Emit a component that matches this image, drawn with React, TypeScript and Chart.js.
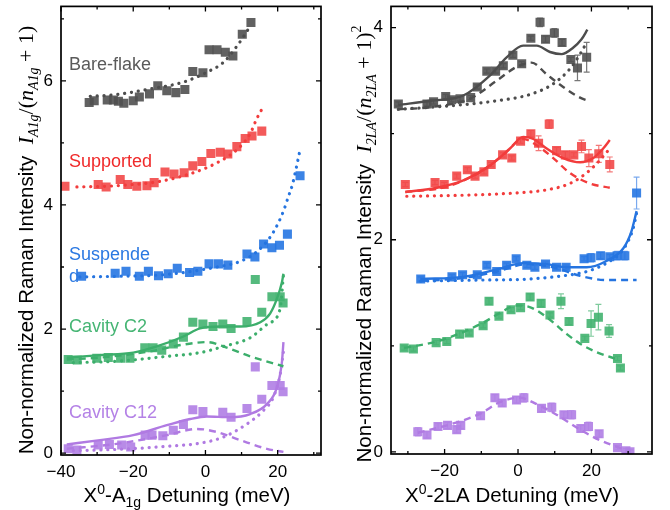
import { useEffect, useRef } from "react";
import { Chart, registerables } from "chart.js";

Chart.register(...registerables);

type Pt = [number, number];

const SANS = '"Liberation Sans", Arial, Helvetica, sans-serif';
const SERIF = '"Liberation Serif", "Times New Roman", serif';

// ---------- A1g panel: axes ----------
const a1gXRange = [-40, 32];
const a1gYRange = [-0.03, 7.2];
const a1gXTicks = [-40, -20, 0, 20];
const a1gXMinor = [-30, -10, 10, 30];
const a1gYTicks = [0, 2, 4, 6];
const a1gYMinor = [1, 3, 5, 7];

// ---------- A1g panel: measured intensities ----------
const bareA1g: Pt[] = [
  [-32.2, 5.65], [-30.8, 5.68], [-27.2, 5.69], [-25.5, 5.69], [-24.1, 5.67], [-22.6, 5.64],
  [-20.0, 5.68], [-18.3, 5.74], [-15.5, 5.79], [-13.2, 5.92], [-10.7, 5.84], [-8.2, 5.81],
  [-5.7, 5.86], [-3.5, 6.15], [-0.7, 6.13], [1.0, 6.5], [3.2, 6.5], [5.5, 6.46], [7.6, 6.4],
  [10.2, 6.75], [12.6, 6.94],
];
const bareA1gDotted: Pt[] = [
  [-31.9, 5.75], [-24.6, 5.78], [-15.3, 5.87], [-6.1, 5.98], [0.4, 6.14], [5.0, 6.3],
  [9.1, 6.59], [12.4, 6.88],
];

const suppA1g: Pt[] = [
  [-38.9, 4.3], [-29.7, 4.33], [-27.5, 4.29], [-23.6, 4.41], [-21.5, 4.33], [-19.0, 4.3],
  [-16.2, 4.31], [-14.2, 4.36], [-11.2, 4.53], [-8.7, 4.5], [-5.9, 4.52], [-3.5, 4.63],
  [-1.0, 4.7], [1.5, 4.83], [4.1, 4.85], [6.2, 4.82], [8.7, 4.94], [11.0, 5.07], [12.9, 5.11],
  [15.6, 5.19],
];
const suppA1gDotted: Pt[] = [
  [-35.6, 4.29], [-24.6, 4.31], [-12.6, 4.38], [-3.3, 4.52], [3.2, 4.68], [8.7, 4.89],
  [12.4, 5.15], [14.2, 5.39], [15.6, 5.54],
];

const suspA1g: Pt[] = [
  [-34.3, 2.85], [-25.0, 2.9], [-22.0, 2.93], [-18.3, 2.85], [-15.8, 2.93], [-13.0, 2.86],
  [-10.3, 2.89], [-7.8, 2.98], [-4.4, 2.91], [-2.1, 2.93], [1.0, 3.05], [3.6, 3.05], [6.2, 3.03],
  [11.5, 3.21], [13.7, 3.16], [16.1, 3.37], [18.4, 3.31], [20.5, 3.35], [22.7, 3.53], [26.2, 4.47],
];
const suspA1gDotted: Pt[] = [
  [-34.8, 2.84], [-24.6, 2.85], [-10.7, 2.88], [3.2, 3.0], [9.6, 3.09], [14.7, 3.27],
  [18.8, 3.56], [21.6, 3.9], [23.0, 4.14], [24.1, 4.33], [26.1, 4.86],
];

const c2A1g: Pt[] = [
  [-38.0, 1.51], [-35.5, 1.5], [-30.1, 1.53], [-26.9, 1.54], [-23.5, 1.53], [-20.9, 1.53],
  [-16.8, 1.7], [-14.5, 1.7], [-12.1, 1.66], [-8.9, 1.76], [-6.1, 1.87], [-3.5, 2.11],
  [-0.7, 2.08], [2.1, 2.04], [4.8, 2.08], [7.1, 2.01], [11.5, 2.12], [13.8, 2.8], [15.6, 2.27],
  [18.4, 2.52], [20.7, 2.52], [21.5, 2.42],
];
const c2A1gSolid: Pt[] = [
  [-38.4, 1.54], [-29.2, 1.58], [-20.0, 1.62], [-13.5, 1.72], [-6.1, 1.88], [-1.5, 2.01],
  [4.1, 2.04], [9.6, 2.04], [15.2, 2.11], [17.9, 2.25], [19.8, 2.49], [21.2, 2.76], [21.6, 2.89],
];
const c2A1gDashed: Pt[] = [
  [-38.4, 1.51], [-29.2, 1.54], [-15.3, 1.64], [-6.1, 1.75], [0.4, 1.79], [5.9, 1.7],
  [12.4, 1.56], [21.6, 1.4],
];
const c2A1gDotted: Pt[] = [
  [-36.6, 1.46], [-24.6, 1.48], [-10.7, 1.56], [-1.5, 1.62], [5.0, 1.72], [12.4, 1.86],
  [17.4, 2.09], [20.7, 2.33], [21.6, 2.87],
];

const c12A1g: Pt[] = [
  [-38.0, 0.07], [-35.6, 0.05], [-29.7, 0.13], [-26.6, 0.14], [-23.2, 0.13], [-20.7, 0.1],
  [-16.7, 0.29], [-14.8, 0.29], [-11.8, 0.28], [-8.9, 0.37], [-6.1, 0.46], [-3.5, 0.7],
  [-0.7, 0.67], [4.8, 0.66], [7.1, 0.58], [11.5, 0.72], [13.8, 1.39], [15.6, 0.87], [18.4, 1.09],
  [20.7, 1.09], [21.5, 0.99],
];
const c12A1gSolid: Pt[] = [
  [-38.4, 0.14], [-29.2, 0.21], [-20.0, 0.29], [-10.7, 0.45], [-4.2, 0.55], [0.4, 0.59],
  [6.8, 0.58], [12.4, 0.63], [17.0, 0.79], [19.8, 1.06], [21.2, 1.48], [21.6, 1.79],
];
const c12A1gDashed: Pt[] = [
  [-38.4, 0.07], [-24.6, 0.15], [-10.7, 0.29], [-2.4, 0.39], [3.2, 0.34], [9.6, 0.21],
  [17.0, 0.07], [21.6, 0.02],
];
const c12A1gDotted: Pt[] = [
  [-36.6, 0.04], [-24.6, 0.06], [-10.7, 0.11], [-1.5, 0.16], [5.0, 0.26], [11.5, 0.47],
  [16.1, 0.69], [18.8, 0.9], [20.7, 1.27], [21.6, 1.64],
];

// ---------- 2LA panel: axes ----------
const laXRange = [-34.6, 36.5];
const laYRange = [-0.02, 4.2];
const laXTicks = [-20, 0, 20];
const laXMinor = [-30, -10, 10, 30];
const laYTicks = [0, 2, 4];
const laYMinor = [1, 3];

// ---------- 2LA panel: measured intensities [detuning, value, error] ----------
const bare2LA: number[][] = [
  [-32.6, 3.28, 0.02], [-24.8, 3.28, 0.02], [-23.0, 3.3, 0.02], [-19.7, 3.35, 0.02],
  [-18.1, 3.32, 0.02], [-15.8, 3.33, 0.02], [-12.9, 3.34, 0.02], [-11.1, 3.44, 0.02],
  [-8.5, 3.59, 0.02], [-6.1, 3.59, 0.02], [-4.0, 3.64, 0.02], [-1.4, 3.74, 0.02],
  [1.0, 3.66, 0.02], [3.5, 3.9, 0.02], [6.0, 4.05, 0.04], [7.5, 3.89, 0.03], [9.9, 3.95, 0.04],
  [12.0, 3.86, 0.03], [14.4, 3.7, 0.02], [16.2, 3.62, 0.12], [18.7, 3.72, 0.14],
];
const bare2LASolid: Pt[] = [
  [-32.6, 3.27], [-23.9, 3.31], [-14.9, 3.36], [-7.6, 3.55], [-3.1, 3.72], [1.4, 3.83],
  [5.1, 3.83], [8.7, 3.77], [11.9, 3.75], [15.0, 3.81], [17.3, 3.89], [18.9, 3.98],
];
const bare2LADashed: Pt[] = [
  [-32.6, 3.23], [-23.9, 3.25], [-13.1, 3.33], [-5.8, 3.5], [-0.4, 3.63], [3.7, 3.67],
  [7.8, 3.56], [12.3, 3.44], [16.9, 3.34], [19.1, 3.31],
];
const bare2LADotted: Pt[] = [
  [-32.6, 3.23], [-19.4, 3.26], [-5.8, 3.31], [3.3, 3.37], [9.6, 3.47], [14.1, 3.61],
  [16.9, 3.75], [18.7, 3.86],
];

const supp2LA: number[][] = [
  [-30.7, 2.52, 0.02], [-22.6, 2.54, 0.02], [-20.1, 2.52, 0.02], [-16.7, 2.6, 0.02],
  [-13.8, 2.66, 0.02], [-11.7, 2.6, 0.02], [-9.3, 2.64, 0.02], [-7.3, 2.71, 0.02],
  [-4.2, 2.8, 0.02], [-1.7, 2.77, 0.02], [0.7, 2.93, 0.02], [3.5, 3.0, 0.03], [5.6, 2.91, 0.07],
  [8.5, 3.09, 0.04], [10.5, 2.84, 0.03], [12.9, 2.8, 0.03], [15.2, 2.8, 0.02], [17.3, 2.88, 0.06],
  [19.3, 2.77, 0.08], [22.0, 2.81, 0.08], [25.0, 2.71, 0.07],
];
const supp2LASolid: Pt[] = [
  [-30.7, 2.45], [-22.1, 2.49], [-14.9, 2.56], [-7.6, 2.7], [-2.2, 2.86], [1.4, 2.97],
  [4.2, 2.95], [7.8, 2.86], [12.3, 2.77], [16.9, 2.73], [20.5, 2.77], [23.2, 2.86], [25.0, 2.94],
];
const supp2LADashed: Pt[] = [
  [-30.7, 2.45], [-19.4, 2.5], [-10.3, 2.64], [-4.0, 2.8], [1.4, 2.95], [5.1, 2.89],
  [9.6, 2.77], [14.1, 2.63], [19.6, 2.53], [25.0, 2.49],
];
const supp2LADotted: Pt[] = [
  [-30.3, 2.41], [-14.9, 2.42], [-1.3, 2.44], [7.8, 2.47], [14.1, 2.53], [18.7, 2.63],
  [22.3, 2.75], [25.0, 2.86],
];

const susp2LA: number[][] = [
  [-26.5, 1.63, 0.02], [-18.0, 1.65, 0.02], [-15.1, 1.67, 0.02], [-11.1, 1.67, 0.02],
  [-8.5, 1.76, 0.02], [-5.8, 1.7, 0.02], [-3.1, 1.76, 0.02], [-0.5, 1.82, 0.02],
  [2.4, 1.76, 0.02], [4.6, 1.74, 0.02], [7.5, 1.77, 0.02], [10.5, 1.74, 0.02], [13.1, 1.74, 0.02],
  [18.0, 1.82, 0.02], [19.9, 1.83, 0.04], [22.5, 1.85, 0.03], [25.0, 1.84, 0.02],
  [27.0, 1.85, 0.04], [29.1, 1.85, 0.04], [32.3, 2.44, 0.15],
];
const susp2LASolid: Pt[] = [
  [-26.5, 1.63], [-14.9, 1.65], [-5.8, 1.72], [1.4, 1.78], [7.8, 1.77], [13.3, 1.74],
  [18.7, 1.74], [24.1, 1.8], [28.7, 1.92], [30.9, 2.08], [32.3, 2.27],
];
const susp2LADashed: Pt[] = [
  [-26.5, 1.61], [-14.9, 1.64], [-5.8, 1.7], [2.4, 1.77], [9.6, 1.74], [16.9, 1.66],
  [24.1, 1.62], [32.3, 1.62],
];
const susp2LADotted: Pt[] = [
  [-26.5, 1.61], [-10.3, 1.62], [3.3, 1.63], [12.3, 1.66], [18.7, 1.7], [24.1, 1.78],
  [28.7, 1.91], [31.4, 2.11], [32.3, 2.25],
];

const c22LA: number[][] = [
  [-31.0, 0.98, 0.02], [-28.5, 0.97, 0.02], [-22.3, 1.03, 0.02], [-19.4, 1.04, 0.02],
  [-15.9, 1.11, 0.03], [-13.3, 1.12, 0.02], [-9.5, 1.19, 0.02], [-7.9, 1.42, 0.03],
  [-5.2, 1.28, 0.02], [-1.9, 1.34, 0.02], [0.7, 1.36, 0.02], [3.3, 1.46, 0.03], [6.3, 1.4, 0.03],
  [8.7, 1.29, 0.02], [11.7, 1.42, 0.07], [13.9, 1.23, 0.03], [18.2, 1.07, 0.02],
  [19.9, 1.21, 0.12], [21.9, 1.27, 0.12], [24.8, 1.14, 0.06], [27.1, 0.88, 0.02], [27.9, 0.79, 0.02],
];
const c22LADashed: Pt[] = [
  [-31.0, 0.98], [-22.2, 1.04], [-14.9, 1.13], [-9.4, 1.22], [-4.9, 1.31], [-0.4, 1.38],
  [2.8, 1.37], [7.8, 1.27], [13.3, 1.11], [16.9, 1.02], [21.4, 0.94], [27.3, 0.87],
];

const c122LA: number[][] = [
  [-27.3, 0.19, 0.04], [-24.8, 0.16, 0.03], [-21.8, 0.24, 0.03], [-19.2, 0.25, 0.03],
  [-16.7, 0.21, 0.03], [-15.6, 0.25, 0.03], [-10.2, 0.34, 0.03], [-6.3, 0.51, 0.03],
  [-4.3, 0.46, 0.03], [-0.4, 0.49, 0.03], [1.6, 0.51, 0.04], [6.4, 0.41, 0.03], [9.2, 0.42, 0.04],
  [12.5, 0.35, 0.03], [14.6, 0.35, 0.04], [17.1, 0.22, 0.03], [19.2, 0.24, 0.04],
  [22.1, 0.17, 0.03], [27.1, 0.04, 0.02], [29.4, 0.01, 0.02], [30.5, 0.0, 0.02],
];
const c122LADashed: Pt[] = [
  [-27.3, 0.18], [-19.4, 0.25], [-10.3, 0.36], [-4.9, 0.47], [0.5, 0.51], [5.1, 0.45],
  [10.5, 0.35], [16.9, 0.21], [22.3, 0.11], [29.1, 0.02],
];

// ---------- series names and colours ----------
const seriesNames = ["Bare-flake", "Supported", "Suspende", "d", "Cavity C2", "Cavity C12"];

const GRAY = { line: "#4d4d4d", fill: "rgba(80,80,80,0.9)", bar: "#777777", text: "#5a5a5a" };
const RED = { line: "#f23c3c", fill: "rgba(242,72,72,0.9)", bar: "#f47a7a", text: "#f02a2a" };
const BLUE = { line: "#2574e0", fill: "rgba(38,118,226,0.9)", bar: "#7aa9ee", text: "#2a78e2" };
const GREEN = { line: "#3cae6b", fill: "rgba(66,178,112,0.9)", bar: "#7fcb9d", text: "#46b574" };
const PURPLE = { line: "#b07ae2", fill: "rgba(176,126,228,0.9)", bar: "#c9a6ee", text: "#b482e6" };

interface Palette { line: string; fill: string; bar: string; text: string }
interface Series {
  pal: Palette;
  pts: number[][];
  solid?: Pt[];
  dashed?: Pt[];
  dotted?: Pt[];
}
interface Run { t: string; f: string; dy?: number }
interface Label { text: string; x: number; y: number; color: string }
interface PanelSpec {
  width: number;
  height: number;
  yAxisW: number;
  xAxisH: number;
  padTop: number;
  padRight: number;
  xRange: number[];
  yRange: number[];
  xTicks: number[];
  xMinor: number[];
  yTicks: number[];
  yMinor: number[];
  series: Series[];
  labels: Label[];
  xTitle: Run[];
  xTitlePos: number[];
  yTitle: Run[];
  yTitlePos: number[];
}

const big = `20.5px ${SANS}`;
const small = `14px ${SANS}`;
const mathBig = `italic 22px ${SERIF}`;
const mathUp = `22px ${SERIF}`;
const mathSub = `italic 14px ${SERIF}`;
const mathSup = `14px ${SERIF}`;

const a1gPanel: PanelSpec = {
  width: 340,
  height: 510,
  yAxisW: 61,
  xAxisH: 55,
  padTop: 4,
  padRight: 19,
  xRange: a1gXRange,
  yRange: a1gYRange,
  xTicks: a1gXTicks,
  xMinor: a1gXMinor,
  yTicks: a1gYTicks,
  yMinor: a1gYMinor,
  series: [
    { pal: GRAY, pts: bareA1g, dotted: bareA1gDotted },
    { pal: RED, pts: suppA1g, dotted: suppA1gDotted },
    { pal: BLUE, pts: suspA1g, dotted: suspA1gDotted },
    { pal: GREEN, pts: c2A1g, solid: c2A1gSolid, dashed: c2A1gDashed, dotted: c2A1gDotted },
    { pal: PURPLE, pts: c12A1g, solid: c12A1gSolid, dashed: c12A1gDashed, dotted: c12A1gDotted },
  ],
  labels: [
    { text: seriesNames[0], x: -37.8, y: 6.18, color: GRAY.text },
    { text: seriesNames[1], x: -37.8, y: 4.61, color: RED.text },
    { text: seriesNames[2], x: -37.8, y: 3.11, color: BLUE.text },
    { text: seriesNames[3], x: -37.8, y: 2.76, color: BLUE.text },
    { text: seriesNames[4], x: -37.8, y: 1.95, color: GREEN.text },
    { text: seriesNames[5], x: -37.8, y: 0.57, color: PURPLE.text },
  ],
  xTitle: [
    { t: "X", f: big },
    { t: "0", f: small, dy: -8 },
    { t: "-A", f: big },
    { t: "1g", f: small, dy: 5 },
    { t: " Detuning (meV)", f: big },
  ],
  xTitlePos: [187, 502],
  yTitle: [
    { t: "Non-normalized Raman Intensity", f: big },
    { t: "  ", f: big },
    { t: "I", f: mathBig },
    { t: "A1g", f: mathSub, dy: 5 },
    { t: "/(", f: mathUp },
    { t: "n", f: mathBig },
    { t: "A1g", f: mathSub, dy: 5 },
    { t: " + 1)", f: mathUp },
  ],
  yTitlePos: [33, 240],
};

const laPanel: PanelSpec = {
  width: 330,
  height: 510,
  yAxisW: 51,
  xAxisH: 56,
  padTop: 4,
  padRight: 18,
  xRange: laXRange,
  yRange: laYRange,
  xTicks: laXTicks,
  xMinor: laXMinor,
  yTicks: laYTicks,
  yMinor: laYMinor,
  series: [
    { pal: GRAY, pts: bare2LA, solid: bare2LASolid, dashed: bare2LADashed, dotted: bare2LADotted },
    { pal: RED, pts: supp2LA, solid: supp2LASolid, dashed: supp2LADashed, dotted: supp2LADotted },
    { pal: BLUE, pts: susp2LA, solid: susp2LASolid, dashed: susp2LADashed, dotted: susp2LADotted },
    { pal: GREEN, pts: c22LA, dashed: c22LADashed },
    { pal: PURPLE, pts: c122LA, dashed: c122LADashed },
  ],
  labels: [],
  xTitle: [
    { t: "X", f: big },
    { t: "0", f: small, dy: -8 },
    { t: "-2LA Detuning (meV)", f: big },
  ],
  xTitlePos: [172, 502],
  yTitle: [
    { t: "Non-normalized Raman Intensity", f: big },
    { t: "  ", f: big },
    { t: "I", f: mathBig },
    { t: "2LA", f: mathSub, dy: 5 },
    { t: "/(", f: mathUp },
    { t: "n", f: mathBig },
    { t: "2LA", f: mathSub, dy: 5 },
    { t: " + 1)", f: mathUp },
    { t: "2", f: mathSup, dy: -10 },
  ],
  yTitlePos: [31, 244],
};

function drawRuns(ctx: CanvasRenderingContext2D, runs: Run[], cx: number, cy: number, vertical: boolean) {
  ctx.save();
  ctx.translate(cx, cy);
  if (vertical) ctx.rotate(-Math.PI / 2);
  const widths = runs.map((r) => {
    ctx.font = r.f;
    return ctx.measureText(r.t).width;
  });
  const total = widths.reduce((a, b) => a + b, 0);
  let x = -total / 2;
  ctx.textAlign = "left";
  ctx.textBaseline = "alphabetic";
  ctx.fillStyle = "#000";
  runs.forEach((r, i) => {
    ctx.font = r.f;
    ctx.fillText(r.t, x, r.dy || 0);
    x += widths[i];
  });
  ctx.restore();
}

function framePlugin(spec: PanelSpec) {
  return {
    id: "frame",
    beforeDatasetsDraw(chart: any) {
      const { ctx, scales } = chart;
      const xs = scales.x;
      const ys = scales.y;
      ctx.save();
      ctx.lineWidth = 1.2;
      for (const s of spec.series) {
        ctx.strokeStyle = s.pal.bar;
        for (const p of s.pts) {
          if (p.length < 3) continue;
          const px = xs.getPixelForValue(p[0]);
          const top = ys.getPixelForValue(p[1] + p[2]);
          const bot = ys.getPixelForValue(p[1] - p[2]);
          ctx.beginPath();
          ctx.moveTo(px, top);
          ctx.lineTo(px, bot);
          ctx.moveTo(px - 3, top);
          ctx.lineTo(px + 3, top);
          ctx.moveTo(px - 3, bot);
          ctx.lineTo(px + 3, bot);
          ctx.stroke();
        }
      }
      ctx.restore();
    },
    afterDraw(chart: any) {
      const { ctx, chartArea: a, scales } = chart;
      const xs = scales.x;
      const ys = scales.y;
      ctx.save();
      // frame
      ctx.strokeStyle = "#000";
      ctx.lineWidth = 1.7;
      ctx.strokeRect(a.left, a.top, a.right - a.left, a.bottom - a.top);
      // inward ticks on all four sides
      ctx.lineWidth = 1.3;
      const tick = (vals: number[], len: number) => {
        for (const v of vals) {
          const px = xs.getPixelForValue(v);
          if (px < a.left - 0.5 || px > a.right + 0.5) continue;
          ctx.beginPath();
          ctx.moveTo(px, a.bottom);
          ctx.lineTo(px, a.bottom - len);
          ctx.moveTo(px, a.top);
          ctx.lineTo(px, a.top + len);
          ctx.stroke();
        }
      };
      const ytick = (vals: number[], len: number) => {
        for (const v of vals) {
          const py = ys.getPixelForValue(v);
          if (py < a.top - 0.5 || py > a.bottom + 0.5) continue;
          ctx.beginPath();
          ctx.moveTo(a.left, py);
          ctx.lineTo(a.left + len, py);
          ctx.moveTo(a.right, py);
          ctx.lineTo(a.right - len, py);
          ctx.stroke();
        }
      };
      tick(spec.xTicks, 5);
      tick(spec.xMinor, 3);
      ytick(spec.yTicks, 5);
      ytick(spec.yMinor, 3);
      // series labels
      ctx.font = `18px ${SANS}`;
      ctx.textAlign = "left";
      ctx.textBaseline = "alphabetic";
      for (const l of spec.labels) {
        ctx.fillStyle = l.color;
        ctx.fillText(l.text, xs.getPixelForValue(l.x), ys.getPixelForValue(l.y));
      }
      ctx.restore();
      drawRuns(ctx, spec.xTitle, spec.xTitlePos[0], spec.xTitlePos[1], false);
      drawRuns(ctx, spec.yTitle, spec.yTitlePos[0], spec.yTitlePos[1], true);
    },
  };
}

function lineSet(pts: Pt[], color: string, style: "solid" | "dashed" | "dotted") {
  return {
    data: pts.map(([x, y]) => ({ x, y })),
    showLine: true,
    pointRadius: 0,
    borderColor: color,
    backgroundColor: color,
    borderWidth: style === "dotted" ? 3.2 : 2.4,
    borderDash: style === "dashed" ? [7, 5] : style === "dotted" ? [0.1, 6.8] : [],
    borderCapStyle: style === "dotted" ? "round" : "butt",
    cubicInterpolationMode: "monotone",
    fill: false,
  };
}

function buildConfig(spec: PanelSpec): any {
  const lines: any[] = [];
  const marks: any[] = [];
  for (const s of spec.series) {
    if (s.solid) lines.push(lineSet(s.solid, s.pal.line, "solid"));
    if (s.dashed) lines.push(lineSet(s.dashed, s.pal.line, "dashed"));
    if (s.dotted) lines.push(lineSet(s.dotted, s.pal.line, "dotted"));
    marks.push({
      data: s.pts.map((p) => ({ x: p[0], y: p[1] })),
      showLine: false,
      pointStyle: "rect",
      pointRadius: 6.4,
      backgroundColor: s.pal.fill,
      borderWidth: 0,
    });
  }
  const fmt = (v: number | string) => {
    const n = Number(v);
    return n < 0 ? "\u2212" + Math.abs(n) : String(n);
  };
  const tickFont = { family: SANS, size: 17 };
  return {
    type: "scatter",
    data: { datasets: [...lines, ...marks] },
    options: {
      animation: false,
      responsive: false,
      events: [],
      layout: { padding: { top: spec.padTop, right: spec.padRight, left: 0, bottom: 0 } },
      plugins: { legend: { display: false }, tooltip: { enabled: false } },
      scales: {
        x: {
          type: "linear",
          min: spec.xRange[0],
          max: spec.xRange[1],
          afterBuildTicks: (s: any) => {
            s.ticks = spec.xTicks.map((value) => ({ value }));
          },
          afterFit: (s: any) => {
            s.height = spec.xAxisH;
            s.paddingLeft = 0;
            s.paddingRight = 0;
          },
          grid: { display: false, drawTicks: false },
          border: { display: false },
          ticks: { font: tickFont, color: "#000", padding: 7, maxRotation: 0, autoSkip: false, callback: fmt },
        },
        y: {
          type: "linear",
          min: spec.yRange[0],
          max: spec.yRange[1],
          afterBuildTicks: (s: any) => {
            s.ticks = spec.yTicks.map((value) => ({ value }));
          },
          afterFit: (s: any) => {
            s.width = spec.yAxisW;
            s.paddingTop = 0;
            s.paddingBottom = 0;
          },
          grid: { display: false, drawTicks: false },
          border: { display: false },
          ticks: { font: tickFont, color: "#000", padding: 8, autoSkip: false, callback: fmt },
        },
      },
    },
    plugins: [framePlugin(spec)],
  };
}

export default function App() {
  const leftRef = useRef<HTMLCanvasElement>(null);
  const rightRef = useRef<HTMLCanvasElement>(null);

  useEffect(() => {
    const charts = [
      new Chart(leftRef.current as HTMLCanvasElement, buildConfig(a1gPanel)),
      new Chart(rightRef.current as HTMLCanvasElement, buildConfig(laPanel)),
    ];
    return () => charts.forEach((c) => c.destroy());
  }, []);

  return (
    <div style={{ position: "fixed", left: 0, top: 0, width: 670, height: 510, background: "#fff" }}>
      <canvas ref={leftRef} width={a1gPanel.width} height={a1gPanel.height} style={{ position: "absolute", left: 0, top: 0 }} />
      <canvas ref={rightRef} width={laPanel.width} height={laPanel.height} style={{ position: "absolute", left: 340, top: 0 }} />
    </div>
  );
}
